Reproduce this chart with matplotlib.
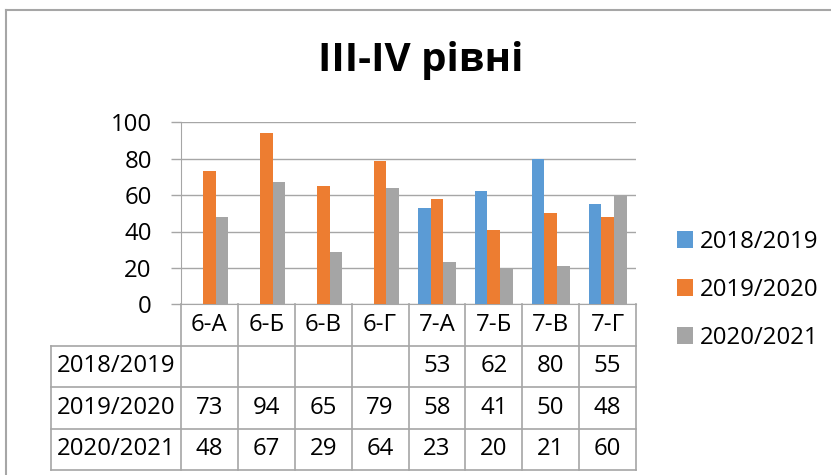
import numpy as np
import matplotlib
matplotlib.use('Agg')
import matplotlib.pyplot as plt
from matplotlib.lines import Line2D
import matplotlib.transforms as mtransforms

plt.rcParams['font.family'] = ['Open Sans', 'DejaVu Sans']

title = 'III-IV рівні'
classes = ['6-А', '6-Б', '6-В', '6-Г', '7-А', '7-Б', '7-В', '7-Г']
years = ['2018/2019', '2019/2020', '2020/2021']
v2018 = [np.nan, np.nan, np.nan, np.nan, 53, 62, 80, 55]
v2019 = [73, 94, 65, 79, 58, 41, 50, 48]
v2020 = [48, 67, 29, 64, 23, 20, 21, 60]
series = [v2018, v2019, v2020]
colors = ['#5B9BD5', '#ED7D31', '#A5A5A5']
line_col = '#A6A6A6'

W, H = 831, 475
fig = plt.figure(figsize=(W / 100, H / 100), dpi=100)
ax = fig.add_axes([181 / W, 1 - 304.3 / H, (636 - 181) / W, 182 / H])

x = np.arange(len(classes))
bw = 0.223
for i, (vals, c) in enumerate(zip(series, colors)):
    ax.bar(x + (i - 1) * bw, vals, bw, color=c, label=years[i], zorder=3)

fs = 17.3
ax.set_xlim(-0.5, len(classes) - 0.5)
ax.set_ylim(0, 100)
ax.set_yticks(np.arange(0, 101, 20))
ax.set_xticks([])
ax.tick_params(axis='y', length=7, color=line_col, width=1, pad=14, labelsize=fs)
ax.grid(axis='y', color=line_col, lw=1, zorder=0)
for s in ['top', 'right']:
    ax.spines[s].set_visible(False)
ax.spines['left'].set_color(line_col)
ax.spines['bottom'].set_color(line_col)

# data table under the axis
tr = mtransforms.blended_transform_factory(ax.transData, ax.transAxes)
row_h = 0.2275
label_left = -0.5 - 130 / 56.875
rows_y = [-row_h * k for k in range(5)]
bottom = rows_y[-1]

def hline(x0, x1, y):
    ax.add_line(Line2D([x0, x1], [y, y], transform=tr, color=line_col, lw=1.2, clip_on=False))

def vline(xx, y0, y1):
    ax.add_line(Line2D([xx, xx], [y0, y1], transform=tr, color=line_col, lw=1.2, clip_on=False))

hline(-0.5, len(classes) - 0.5, rows_y[1])
for y in rows_y[2:]:
    hline(label_left, len(classes) - 0.5, y)
hline(label_left, -0.5, rows_y[1])
for b in np.arange(len(classes) + 1) - 0.5:
    vline(b, 0, bottom)
vline(label_left, rows_y[1], bottom)

for j, c in enumerate(classes):
    ax.text(j, (rows_y[0] + rows_y[1]) / 2, c, transform=tr, ha='center', va='center', fontsize=fs)
for r, (yr, vals) in enumerate(zip(years, series)):
    yc = (rows_y[r + 1] + rows_y[r + 2]) / 2
    ax.text((label_left - 0.5) / 2, yc, yr, transform=tr, ha='center', va='center', fontsize=fs)
    for j, v in enumerate(vals):
        if not np.isnan(v):
            ax.text(j, yc, str(int(v)), transform=tr, ha='center', va='center', fontsize=fs)

fig.text(421 / W, 1 - 60 / H, title, ha='center', va='center', fontsize=29, fontweight='bold')

fig.legend(loc='center left', bbox_to_anchor=(677 / W, 1 - 290 / H), frameon=False, fontsize=fs,
           handlelength=0.66, handleheight=0.66, handletextpad=0.3, labelspacing=1.0,
           borderpad=0, borderaxespad=0)

# chart border
fig.add_artist(Line2D([6 / W, 1], [1 - 10 / H, 1 - 10 / H], color=line_col, lw=1.5))
fig.add_artist(Line2D([6 / W, 6 / W], [0, 1 - 10 / H], color=line_col, lw=1.5))

fig.savefig('out.png', dpi=100)
